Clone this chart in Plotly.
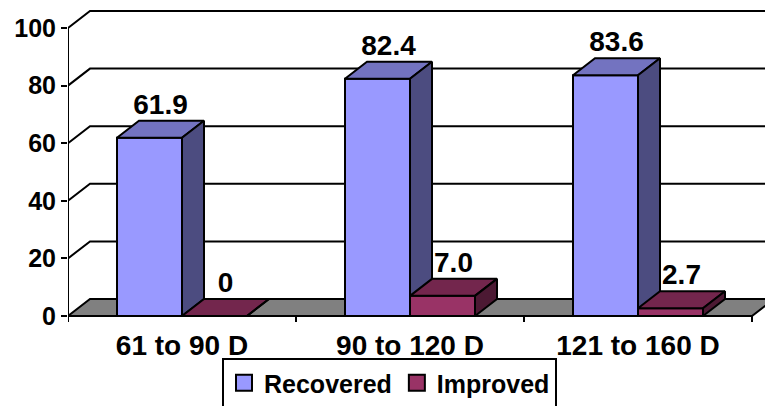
import plotly.graph_objects as go

# ---- data ----
categories = ["61 to 90 D", "90 to 120 D", "121 to 160 D"]
recovered = [61.9, 82.4, 83.6]
improved = [0, 7.0, 2.7]
y_ticks = [0, 20, 40, 60, 80, 100]

series_names = ["Recovered", "Improved"]
series_values = [recovered, improved]

# ---- styling: front / top / side shades per series ----
FACE_COLORS = {
    "Recovered": ("#9999FF", "#7373C0", "#4C4C80"),
    "Improved": ("#993366", "#73264D", "#4C1933"),
}
FLOOR_COLOR = "#808080"
FONT = "Liberation Sans, Arial, sans-serif"

# ---- frame geometry (pixels) ----
W, H = 765, 406
ML, MR, MT, MB = 68, 0, 0, 84
PLOT_W, PLOT_H = W - ML - MR, H - MT - MB
PX_PER_CAT = 228          # horizontal pixels per category slot
PX_PER_UNIT = 2.88        # vertical pixels per value unit
ZERO_PX = 316 - MT        # pixel offset of value 0 from the plot top
DEPTH_PX = (22, 17)       # oblique depth offset of the 3D box

X0 = -0.5
X1 = X0 + PLOT_W / PX_PER_CAT
Y1 = ZERO_PX / PX_PER_UNIT
Y0 = Y1 - PLOT_H / PX_PER_UNIT
DX = DEPTH_PX[0] / PX_PER_CAT
DY = DEPTH_PX[1] / PX_PER_UNIT
BAR_W = 65 / PX_PER_CAT

n_cat = len(categories)
x_left_edge = -0.5
x_right_edge = n_cat - 0.5
y_top = y_ticks[-1]

fig = go.Figure()

# ---- floor, walls and gridlines (behind the bars) ----
shapes = []
shapes.append(dict(
    type="path", xref="x", yref="y", layer="below",
    path=(f"M{x_left_edge},0 L{x_right_edge},0 L{x_right_edge + DX},{DY} "
          f"L{x_left_edge + DX},{DY} Z"),
    fillcolor=FLOOR_COLOR, line=dict(color="black", width=2),
))
for v in y_ticks[1:]:
    shapes.append(dict(
        type="path", xref="x", yref="y", layer="below",
        path=(f"M{x_left_edge},{v} L{x_left_edge + DX},{v + DY} "
              f"L{X1 + 1},{v + DY}"),
        line=dict(color="black", width=2),
    ))
# front vertical axis line
shapes.append(dict(
    type="line", xref="x", yref="y", layer="above",
    x0=x_left_edge, x1=x_left_edge, y0=Y0, y1=y_top,
    line=dict(color="black", width=2),
))
# category boundary ticks
for k in range(n_cat + 1):
    b = x_left_edge + k
    shapes.append(dict(
        type="line", xref="x", yref="y", layer="above",
        x0=b, x1=b, y0=0, y1=Y0,
        line=dict(color="black", width=2),
    ))


def face(xs, ys, color):
    fig.add_trace(go.Scatter(
        x=xs + [xs[0]], y=ys + [ys[0]], mode="lines", fill="toself",
        fillcolor=color, line=dict(color="black", width=2),
        hoverinfo="skip", showlegend=False,
    ))


# ---- 3D bars: front, top and side faces ----
label_x, label_y, label_txt = [], [], []
for i in range(n_cat):
    for k, name in enumerate(series_names):
        h = series_values[k][i]
        front_c, top_c, side_c = FACE_COLORS[name]
        left = i + (k - 1) * BAR_W
        right = left + BAR_W
        face([left, right, right, left], [0, 0, h, h], front_c)
        face([left, right, right + DX, left + DX], [h, h, h + DY, h + DY], top_c)
        face([right, right + DX, right + DX, right], [0, DY, h + DY, h], side_c)
        label_x.append(left + BAR_W / 2 + DX / 2)
        label_y.append(h + DY)
        label_txt.append("0" if h == 0 else f"{h:.1f}")

# value labels
fig.add_trace(go.Scatter(
    x=label_x, y=label_y, text=label_txt, mode="text",
    textposition="top center", cliponaxis=False,
    textfont=dict(family=FONT, size=28, color="black", weight="bold"),
    hoverinfo="skip", showlegend=False,
))

# legend entries
for name in series_names:
    fig.add_trace(go.Scatter(
        x=[None], y=[None], mode="markers", name=name,
        marker=dict(symbol="square", size=16, color=FACE_COLORS[name][0],
                    line=dict(color="black", width=2)),
    ))

fig.update_layout(
    width=W, height=H,
    margin=dict(l=ML, r=MR, t=MT, b=MB, pad=0, autoexpand=False),
    paper_bgcolor="white", plot_bgcolor="white",
    shapes=shapes,
    showlegend=True,
    legend=dict(
        orientation="h", itemsizing="trace",
        x=(222 - ML) / PLOT_W, xanchor="left",
        y=(PLOT_H - (358 - MT)) / PLOT_H, yanchor="top",
        bordercolor="black", borderwidth=2, bgcolor="white",
        font=dict(family=FONT, size=25, color="black", weight="bold"),
        itemclick=False, itemdoubleclick=False,
    ),
    xaxis=dict(
        range=[X0, X1], tickvals=list(range(n_cat)), ticktext=categories,
        showgrid=False, zeroline=False, showline=False, ticks="",
        ticklabelstandoff=4,
        tickfont=dict(family=FONT, size=28, color="black", weight="bold"),
        fixedrange=True,
    ),
    yaxis=dict(
        range=[Y0, Y1], tickvals=y_ticks,
        showgrid=False, zeroline=False, showline=False,
        ticks="outside", ticklen=6, tickwidth=2, tickcolor="black",
        tickfont=dict(family=FONT, size=25, color="black", weight="bold"),
        fixedrange=True,
    ),
)

fig.write_html("out.html")
